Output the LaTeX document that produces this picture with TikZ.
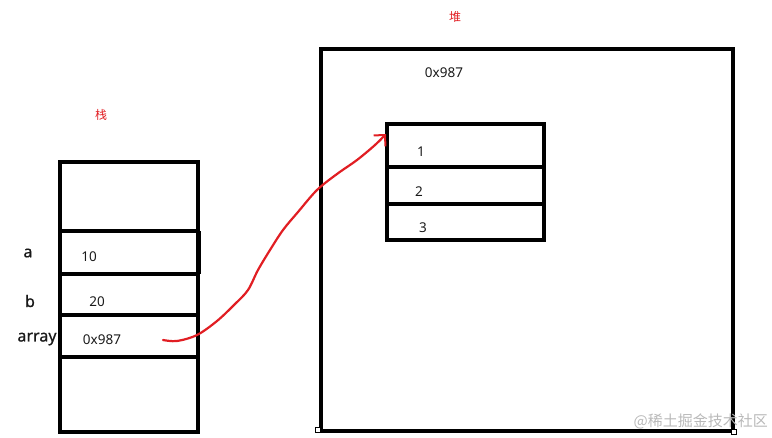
\documentclass[tikz,border=0pt]{standalone}
\usepackage{fontspec}
\setmainfont{Noto Sans}
\newfontfamily\cjk{Noto Sans CJK SC}
\newfontfamily\labfont[FakeBold=0.8]{Noto Sans}
\usetikzlibrary{arrows.meta}
\definecolor{redink}{RGB}{225,30,35}
\definecolor{wm}{RGB}{185,185,185}
\definecolor{ink}{RGB}{25,25,25}
\tikzset{
  box/.style={draw=black, line width=3.6pt},
  cell/.style={draw=black, line width=3.2pt},
  val/.style={font=\fontsize{13.5}{15}\selectfont, text=ink, inner sep=0pt, anchor=center},
  lab/.style={font=\labfont\fontsize{16}{18}\selectfont, text=ink, inner sep=0pt, anchor=center},
  red label/.style={font=\cjk\fontsize{12}{14}\selectfont, text=redink, inner sep=0pt},
  handle/.style={draw=black, fill=white, line width=0.6pt, minimum size=5pt, inner sep=0pt},
  pointer/.style={draw=redink, line width=2.2pt, line cap=round, line join=round, -{Straight Barb[length=8pt, width=16pt, line width=2pt]}},
}
\begin{document}
\begin{tikzpicture}[x=1pt, y=-1pt]
\useasboundingbox (0,0) rectangle (772,437);
% titles
\node[red label] (stacktitle) at (101,115) {栈};
\node[red label] (heaptitle) at (455,17) {堆};
% stack
\draw[box] (60,162) rectangle (198,432);
\draw[cell] (60,231) -- (200,231);
\draw[cell] (60,274) -- (200,274);
\draw[line width=4.5pt] (199,231) -- (199,274);
\draw[cell] (60,315) -- (198,315);
\draw[cell] (60,357) -- (198,357);
\node[lab] (la) at (28,253) {a};
\node[lab] (lb) at (30,301) {b};
\node[lab] (larr) at (37,339) {array};
\node[val] (v10) at (89,257) {10};
\node[val] (v20) at (97,302) {20};
\node[val] (vaddr) at (102,340) {0x987};
% heap
\draw[box] (321,49) rectangle (733,431);
\node[val] (haddr) at (444,73) {0x987};
\draw[box] (387,124) rectangle (544,240);
\draw[box] (387,167) -- (544,167);
\draw[cell] (387,204) -- (544,204);
\node[val] (e1) at (421,152) {1};
\node[val] (e2) at (419,192) {2};
\node[val] (e3) at (423,228) {3};
\node[handle] (h1) at (318,430) {};
\node[handle] (h2) at (734,432) {};
% pointer
\coordinate (ps) at (163,340);
\coordinate (pt) at (386,134);
\draw[pointer] plot[smooth, tension=0.55] coordinates {(ps) (177,341) (197,335) (217,321) (235,304) (248,290) (258,270) (270,250) (283,230) (298,212) (317,190) (337,174) (357,160) (375,145) (pt)};
% watermark
\node[font=\cjk\fontsize{15}{17}\selectfont, text=wm, inner sep=0pt, anchor=east] (wmark) at (768,421) {@稀土掘金技术社区};
\end{tikzpicture}
\end{document}
